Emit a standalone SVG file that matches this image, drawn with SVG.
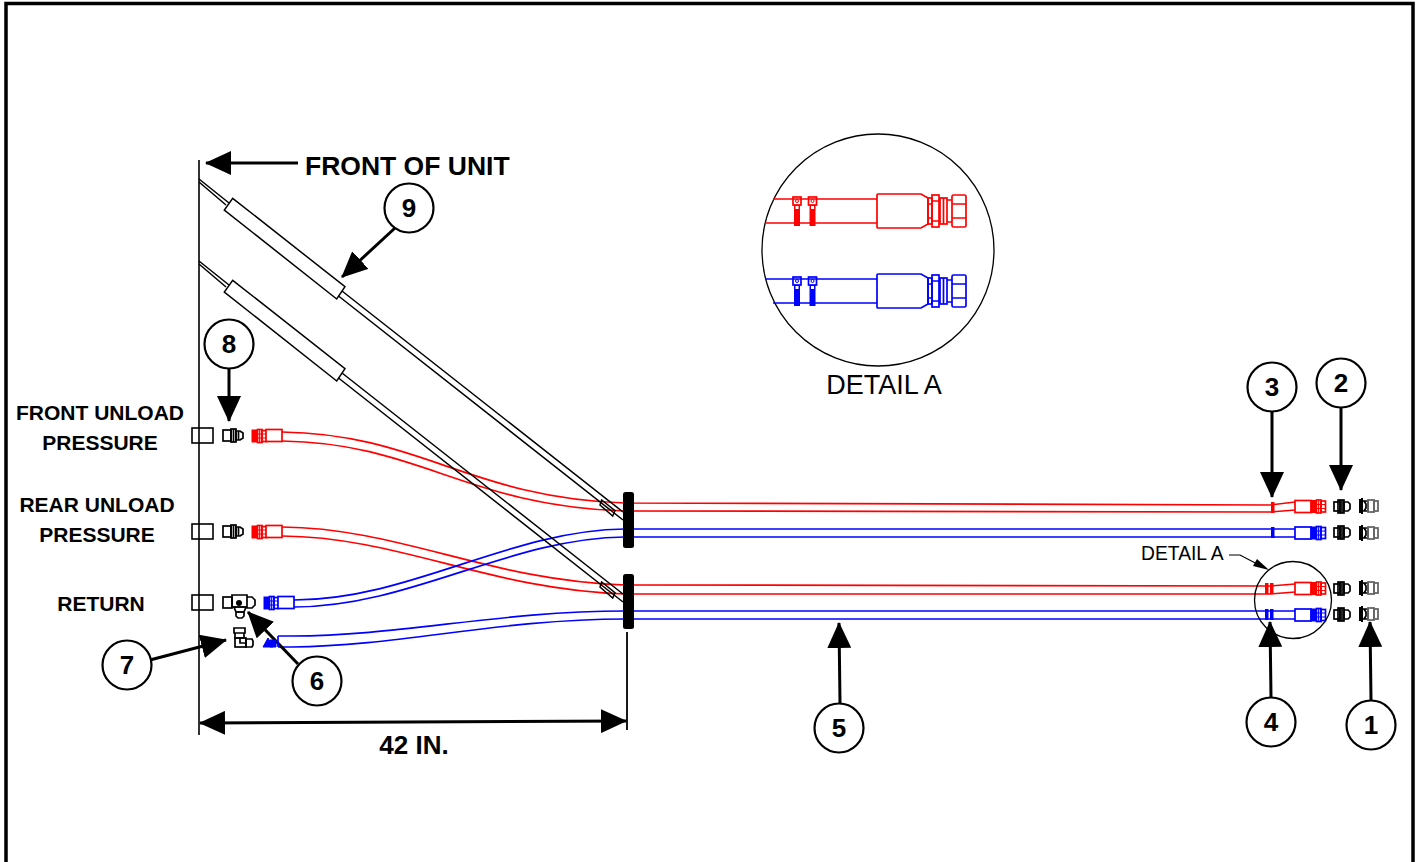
<svg xmlns="http://www.w3.org/2000/svg" width="1421" height="862" viewBox="0 0 1421 862">
<style>
text{font-family:"Liberation Sans",Arial,sans-serif;fill:#000}
.b{font-weight:bold}
.lab{font-weight:bold;font-size:21px;text-anchor:middle}
.num{font-weight:bold;font-size:26px;text-anchor:middle}
.c{fill:#fff;stroke:#000;stroke-width:2.200}
.ln{fill:none;stroke:#000;stroke-width:3}
.r{fill:none;stroke:#f00;stroke-width:1.700}
.u{fill:none;stroke:#00f;stroke-width:1.700}
.rb{fill:#fff;stroke:#f00;stroke-width:1.700}
.ub{fill:#fff;stroke:#00f;stroke-width:1.700}
.k{fill:none;stroke:#000;stroke-width:1.700}
.g{fill:none;stroke:#666;stroke-width:1.800}
.w{fill:#fff;stroke:#000;stroke-width:1.500}
.f{fill:none;stroke:currentColor;stroke-width:1.700}
</style>
<defs>
<marker id="ah" markerUnits="userSpaceOnUse" markerWidth="27" markerHeight="24" refX="25" refY="12" orient="auto-start-reverse"><path d="M0 0L26 12L0 24Z" fill="#000"/></marker>
<g id="harness">
<path class="w" d="M199 179L229 203M199 182L226 205"/>
<path class="w" d="M232.700 198.300L345 286.700L336.700 299L224.300 210Z"/>
<path class="w" d="M342 291L623 512M338.500 296L623 520"/>
<path class="w" d="M601.700 500L615 510.700L612.700 516L600 505Z" style="fill:none"/>
</g>
<g id="endfit">
<rect x="0" y="0" width="5" height="12" fill="currentColor" stroke="currentColor"/>
<rect x="5.500" y="-.5" width="4.500" height="13" class="f"/>
<path d="M7.700 0V12M0 4H14M0 8H14" stroke="currentColor" stroke-width="1.200" fill="none"/>
<rect x="10" y=".5" width="4.500" height="11" class="f"/>
</g>
<g id="q2">
<rect x="1" y="1" width="6" height="9" class="k"/>
<rect x="5" y="-1" width="6" height="13" class="k"/>
<path d="M11 1H15L17 3V8L15 10H11Z" class="k"/>
<path d="M7 -1V12M9 -1V12" class="k"/>
</g>
<g id="q1">
<path d="M1 -1V13M3 -2V14" stroke="#000" stroke-width="2" fill="none"/>
<path d="M3 1H9V11H3M5 1L7 4V8L5 11" class="k"/>
<rect x="9" y="0" width="6" height="12" class="g"/>
<rect x="15" y="1" width="4" height="10" class="g"/>
</g>
<g id="bulk">
<rect x="0" y="0" width="21" height="15" fill="none" stroke="#000" stroke-width="1.600"/>
</g>
<g id="nip">
<rect x="0" y="0" width="8" height="11" class="k"/>
<rect x="8" y="-1" width="5" height="13" class="k"/>
<path d="M10.500 -1V12" class="k"/>
<path d="M13 1H17L20 3V8L17 10H13Z" class="k"/>
<path d="M15.500 1V10" class="k"/>
</g>
<g id="tie">
<rect x="-4" y="0" width="8" height="8" class="f"/>
<circle cx="0" cy="4" r="1.500" fill="none" stroke="currentColor"/>
<rect x="-3" y="8" width="6" height="21" fill="currentColor"/>
<rect x="-1.500" y="9" width="3" height="3" fill="#fff"/>
</g>
<g id="bigfit">
<path d="M878 194H921L928 198V224L921 228H878Q877 228 877 227V195Q877 194 878 194Z" fill="#fff" class="f" style="fill:#fff"/>
<rect x="928" y="198" width="4" height="26" class="f"/>
<path d="M928 204H932M928 218H932" class="f"/>
<rect x="932" y="195" width="7" height="32" class="f"/>
<path d="M932 201H939M932 221H939" class="f"/>
<rect x="940" y="198" width="7" height="26" class="f"/>
<path d="M943.500 198V224" class="f"/>
<path d="M947 200H952M947 222H952" class="f"/>
<rect x="952" y="195" width="14" height="32" rx="1.500" class="f"/>
<path d="M952 204H966M952 218H966" class="f"/>
</g>
</defs>

<rect id="border" x="6" y="3.500" width="1407" height="870" fill="#fff" stroke="#000" stroke-width="3.500"/>

<g id="connectors">
<path id="red1a" class="r" d="M282 432C420 434 470 498 625 503L1270 505L1295 502"/>
<path id="red1b" class="r" d="M282 441C420 443 465 506 625 511L1270 512L1295 510"/>
<path id="red2a" class="r" d="M282 527C400 528 490 581 625 585L1270 586L1295 584"/>
<path id="red2b" class="r" d="M282 536C400 537 490 590 625 594L1270 594L1295 592"/>
<path id="blue1a" class="u" d="M294 600C410 600 510 530 625 529H1295"/>
<path id="blue1b" class="u" d="M294 607C410 607 510 538 625 537H1295"/>
<path id="blue2a" class="u" d="M278 636H292C400 636 500 611 625 611H1295"/>
<path id="blue2b" class="u" d="M278 647H292C400 646 500 619 625 619H1295"/>
<path id="dim-left" d="M199 160V735" fill="none" stroke="#333" stroke-width="2"/>
<path id="dim-right" d="M627 632V730" fill="none" stroke="#000" stroke-width="1.800"/>
<path id="dim" class="ln" d="M200 723L626 721" marker-start="url(#ah)" marker-end="url(#ah)"/>
<path id="front-arrow" class="ln" d="M298 163H206" marker-end="url(#ah)"/>
<path class="ln" d="M395 228L342 277" marker-end="url(#ah)"/>
<path class="ln" d="M229 368V421" marker-end="url(#ah)"/>
<path class="ln" d="M150 660L226 640" marker-end="url(#ah)"/>
<path class="ln" d="M298 664L248 612" marker-end="url(#ah)"/>
<path class="ln" d="M840 703L839 623" marker-end="url(#ah)"/>
<path class="ln" d="M1271 697L1270 622" marker-end="url(#ah)"/>
<path class="ln" d="M1272 412V497" marker-end="url(#ah)"/>
<path class="ln" d="M1341 408V490" marker-end="url(#ah)"/>
<path class="ln" d="M1371 700L1370 622" marker-end="url(#ah)"/>
<path id="detail-leader" d="M1229 555H1240L1261 566" fill="none" stroke="#000" stroke-width="1.200"/>
<path d="M1269 570L1253 566L1257 559Z" fill="#000"/>
</g>

<g id="cable-sleeve-1"><use href="#harness"/></g>
<g id="cable-sleeve-2"><use href="#harness" transform="translate(0 82)"/></g>

<g id="block-1"><rect x="623" y="492" width="11" height="56" rx="2.500" fill="#000"/></g>
<g id="block-2"><rect x="623" y="574" width="11" height="55" rx="2.500" fill="#000"/></g>

<g id="left-bulkheads">
<use href="#bulk" transform="translate(192 428)"/>
<use href="#bulk" transform="translate(192 524)"/>
<use href="#bulk" transform="translate(192 595)"/>
</g>
<g id="left-nipples">
<use href="#nip" transform="translate(223 430)"/>
<use href="#nip" transform="translate(223 526)"/>
</g>
<g id="part-6">
<rect x="223" y="597" width="9" height="11" class="k"/>
<path d="M232 595H247V607H232ZM247 597H252L255 600V605L252 608H247Z" class="k"/>
<path d="M234 607H246L244 612H236Z" class="k"/>
<path d="M236 612H244V616L242 618H238L236 616Z" class="k"/>
<circle cx="239" cy="603" r="3" fill="#000"/>
</g>
<g id="part-7">
<path d="M234 628H245V633H234ZM235 633H244V638H235Z" class="k"/>
<rect x="235" y="638" width="11" height="9" class="k"/>
<path d="M246 639H252L253 641V645L252 647H246Z" class="k"/>
<path d="M240 638V643H246" class="k"/>
</g>

<g id="hose-ends-left">
<g style="color:#f00">
<use href="#endfit" transform="translate(252 430)"/>
<rect x="266" y="429.500" width="16" height="12" class="rb"/>
<use href="#endfit" transform="translate(252 526)"/>
<rect x="266" y="525.500" width="16" height="12" class="rb"/>
</g>
<g style="color:#00f">
<use href="#endfit" transform="translate(264 597)"/>
<rect x="278" y="596.500" width="16" height="12" class="ub"/>
<path d="M263 647L268 638L273 647ZM270 640H276V647H270Z" fill="#00f" stroke="#00f"/>
<path d="M278 647V636" class="u"/>
</g>
</g>

<g id="hose-ends-right">
<g style="color:#f00">
<rect x="1271" y="502" width="3.500" height="11" fill="#f00"/>
<rect x="1265" y="583" width="3.500" height="11" fill="#f00"/>
<rect x="1270" y="583" width="3.500" height="11" fill="#f00"/>
<rect x="1295" y="500.500" width="16" height="12" class="rb"/>
<use href="#endfit" transform="translate(1311 500.500)"/>
<rect x="1295" y="582.500" width="16" height="12" class="rb"/>
<use href="#endfit" transform="translate(1311 582.500)"/>
</g>
<g style="color:#00f">
<rect x="1271" y="527" width="3.500" height="11" fill="#00f"/>
<rect x="1265" y="609" width="3.500" height="11" fill="#00f"/>
<rect x="1270" y="609" width="3.500" height="11" fill="#00f"/>
<rect x="1295" y="527" width="16" height="12" class="ub"/>
<use href="#endfit" transform="translate(1311 527)"/>
<rect x="1295" y="609" width="16" height="12" class="ub"/>
<use href="#endfit" transform="translate(1311 609)"/>
</g>
</g>

<g id="part-2">
<use href="#q2" transform="translate(1333 501)"/>
<use href="#q2" transform="translate(1333 527)"/>
<use href="#q2" transform="translate(1333 583)"/>
<use href="#q2" transform="translate(1333 609)"/>
</g>
<g id="part-1">
<use href="#q1" transform="translate(1359 500)"/>
<use href="#q1" transform="translate(1359 527)"/>
<use href="#q1" transform="translate(1359 582)"/>
<use href="#q1" transform="translate(1359 608)"/>
</g>
<circle id="detail-circle-small" cx="1293" cy="600" r="38.500" fill="none" stroke="#000" stroke-width="1.300"/>

<g id="detail-a">
<circle cx="878" cy="250" r="116" fill="#fff" stroke="#000" stroke-width="1.300"/>
<path class="r" d="M773 199H877M765 223H877"/>
<path class="u" d="M765 279H877M773 303H877"/>
<g style="color:#f00"><use href="#tie" transform="translate(797 197)"/><use href="#tie" transform="translate(812.500 197)"/><use href="#bigfit"/></g>
<g style="color:#00f"><use href="#tie" transform="translate(797 277)"/><use href="#tie" transform="translate(812.500 277)"/><use href="#bigfit" transform="translate(0 80)"/></g>
<text x="884" y="394" font-size="27" text-anchor="middle">DETAIL A</text>
</g>

<g id="labels">
<text x="305" y="175" class="b" font-size="26.500">FRONT OF UNIT</text>
<text x="100" y="420" class="lab">FRONT UNLOAD</text>
<text x="100" y="450" class="lab">PRESSURE</text>
<text x="97" y="512" class="lab">REAR UNLOAD</text>
<text x="97" y="542" class="lab">PRESSURE</text>
<text x="101" y="611" class="lab">RETURN</text>
<text x="414" y="754" class="b" font-size="26" text-anchor="middle">42 IN.</text>
<text x="1141" y="560" font-size="19.300">DETAIL A</text>
</g>

<g id="callout-9"><circle class="c" cx="409" cy="208" r="24.500"/><text class="num" x="409" y="217">9</text></g>
<g id="callout-8"><circle class="c" cx="229" cy="344" r="24.500"/><text class="num" x="229" y="353">8</text></g>
<g id="callout-7"><circle class="c" cx="127" cy="665" r="24.500"/><text class="num" x="127" y="674">7</text></g>
<g id="callout-6"><circle class="c" cx="317" cy="681" r="24.500"/><text class="num" x="317" y="690">6</text></g>
<g id="callout-5"><circle class="c" cx="839" cy="728" r="24.500"/><text class="num" x="839" y="737">5</text></g>
<g id="callout-4"><circle class="c" cx="1271" cy="722" r="24.500"/><text class="num" x="1271" y="731">4</text></g>
<g id="callout-3"><circle class="c" cx="1272" cy="387" r="24.500"/><text class="num" x="1272" y="396">3</text></g>
<g id="callout-2"><circle class="c" cx="1341" cy="383" r="24.500"/><text class="num" x="1341" y="392">2</text></g>
<g id="callout-1"><circle class="c" cx="1371" cy="725" r="24.500"/><text class="num" x="1371" y="734">1</text></g>
</svg>
